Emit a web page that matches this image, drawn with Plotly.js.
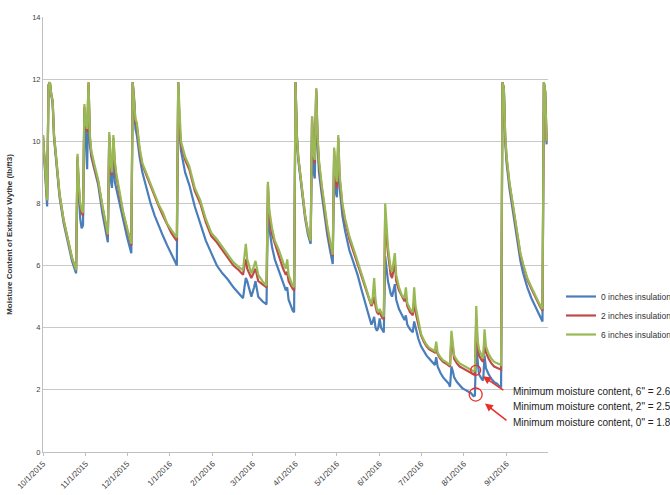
<!DOCTYPE html>
<html>
<head>
<meta charset="utf-8">
<script src="https://cdn.plot.ly/plotly-3.0.1.min.js"></script>
<style>html,body{margin:0;padding:0;background:#fff;overflow:hidden}#chart{width:670px;height:495px}</style>
</head>
<body>
<div id="chart"></div>
<script>
// Day offsets from 10/1/2015
const dayIndex = [0,1,2,3,4,5,6,7,8,10,12,15,18,21,24,25,26,27,28,29,30,31,32,33,34,35,37,40,43,46,47,48,49,50,51,52,53,55,58,61,64,65,66,67,68,70,72,75,78,81,84,87,90,93,96,97,98,99,100,103,106,110,114,118,122,126,130,134,138,142,145,146,147,148,150,151,153,154,156,159,162,163,164,166,168,171,174,176,177,178,181,182,183,184,185,186,188,190,192,194,195,196,197,198,199,200,202,204,206,208,210,211,212,213,214,215,217,219,222,225,228,231,234,237,238,239,240,241,242,243,244,245,246,247,248,249,250,252,253,255,256,258,260,262,263,264,266,268,269,270,272,274,276,278,280,282,284,285,286,288,290,292,294,295,296,297,298,300,302,304,306,308,310,312,313,314,315,316,318,319,320,321,323,325,327,329,331,332,333,334,335,336,338,340,342,344,346,348,351,354,357,360,362,363,364,365];

const moisture6in = [10.2,9.4,8.6,8.1,11.8,11.9,11.5,11.3,10.2,9.2,8.3,7.45,6.8,6.25,5.85,9.6,8.6,8.0,7.8,7.7,11.2,10.6,10.4,11.9,10.2,9.7,9.3,8.75,7.95,7.25,7.0,10.3,9.3,9.0,10.2,9.4,9.0,8.5,7.75,7.2,6.7,11.9,11.4,10.7,10.6,9.8,9.3,8.95,8.6,8.3,7.95,7.7,7.35,7.15,6.95,6.9,11.9,10.6,10.0,9.5,9.2,8.5,8.1,7.5,7.05,6.85,6.6,6.35,6.1,5.95,5.85,6.3,6.7,6.2,5.9,5.75,6.0,6.15,5.7,5.5,5.35,8.7,7.8,7.2,6.8,6.5,6.1,5.9,6.2,5.7,5.35,5.3,11.9,10.2,9.5,9.1,8.3,7.6,7.1,6.8,10.8,9.6,9.4,11.7,10.2,9.4,8.6,7.9,7.3,6.8,6.35,9.8,9.0,8.7,10.2,8.9,8.0,7.5,6.95,6.55,6.15,5.75,5.3,4.85,4.75,5.0,5.6,4.9,4.6,4.5,4.6,4.5,4.4,4.35,8.0,7.2,6.6,5.9,5.8,6.4,5.7,5.3,5.05,4.95,5.3,4.8,4.6,4.5,5.3,4.7,4.2,3.8,3.6,3.45,3.35,3.3,3.25,3.55,3.2,3.05,2.95,2.9,2.85,2.8,3.9,3.4,3.1,2.95,2.85,2.8,2.75,2.7,2.65,2.6,2.62,4.7,3.6,3.3,3.1,3.0,3.95,3.4,3.15,3.0,2.9,2.85,2.8,2.8,11.9,11.7,10.2,9.5,8.7,8.1,7.45,6.9,6.4,6.05,5.6,5.3,5.0,4.75,4.6,11.9,11.6,10.0];

const moisture2in = [10.2,9.4,8.6,8.1,11.8,11.9,11.5,11.3,10.2,9.2,8.3,7.45,6.8,6.25,5.85,9.5,8.5,7.9,7.7,7.6,11.1,10.5,10.3,11.9,10.1,9.6,9.2,8.7,7.9,7.2,6.95,10.2,9.2,8.9,10.1,9.3,8.9,8.4,7.7,7.15,6.65,11.9,11.4,10.6,10.5,9.7,9.25,8.9,8.55,8.25,7.9,7.6,7.3,7.05,6.85,6.8,11.9,10.5,9.9,9.4,9.1,8.4,8.0,7.4,6.95,6.75,6.5,6.25,6.0,5.85,5.7,6.0,6.2,5.9,5.7,5.6,5.8,5.9,5.5,5.4,5.3,8.6,7.6,7.0,6.7,6.3,5.9,5.7,5.8,5.5,5.25,5.2,11.9,10.2,9.5,9.1,8.3,7.6,7.1,6.8,10.8,9.5,9.3,11.7,10.1,9.3,8.5,7.8,7.2,6.7,6.3,9.7,8.8,8.5,10.1,8.8,7.9,7.4,6.85,6.45,6.05,5.65,5.2,4.8,4.7,4.8,5.0,4.7,4.5,4.45,4.5,4.4,4.3,4.3,7.7,6.9,6.4,5.7,5.6,6.1,5.5,5.2,5.0,4.85,5.0,4.7,4.5,4.4,4.9,4.5,4.1,3.75,3.55,3.4,3.3,3.25,3.2,3.3,3.15,3.0,2.9,2.85,2.8,2.75,3.7,3.3,3.0,2.85,2.75,2.7,2.65,2.6,2.55,2.5,2.52,4.3,3.4,3.1,2.95,2.9,3.6,3.2,3.0,2.85,2.75,2.7,2.65,2.65,11.9,11.7,10.1,9.45,8.65,8.05,7.4,6.85,6.35,6.0,5.55,5.25,4.95,4.7,4.55,11.9,11.6,10.0];

const moisture0in = [10.1,9.3,8.4,7.9,11.8,11.9,11.5,11.2,10.1,9.1,8.2,7.35,6.7,6.15,5.75,9.4,8.2,7.5,7.2,7.3,11.0,9.9,9.1,11.8,9.9,9.5,9.1,8.6,7.7,6.95,6.75,10.1,8.8,8.5,9.8,8.7,8.5,8.1,7.45,6.9,6.4,11.9,11.3,10.4,10.2,9.5,9.0,8.5,8.0,7.6,7.25,6.95,6.65,6.4,6.1,6.0,11.9,10.3,9.7,9.0,8.6,7.9,7.35,6.8,6.4,6.0,5.75,5.55,5.3,5.1,4.95,5.3,5.6,5.5,5.2,5.0,5.3,5.5,5.0,4.85,4.75,7.9,7.2,6.6,6.2,5.8,5.4,5.2,5.3,4.9,4.55,4.5,11.9,10.1,9.4,9.0,8.2,7.5,7.0,6.7,10.6,9.0,8.8,11.6,9.9,9.0,8.3,7.6,7.0,6.5,6.05,9.5,8.4,8.2,9.8,8.5,7.6,7.1,6.5,6.1,5.7,5.2,4.75,4.3,4.1,4.2,4.35,4.0,3.9,4.0,4.3,4.0,3.9,3.85,6.3,5.9,5.5,5.1,5.0,5.4,4.9,4.6,4.4,4.25,4.4,4.1,3.95,3.85,4.2,4.0,3.65,3.4,3.25,3.1,3.0,2.9,2.8,3.05,2.75,2.55,2.4,2.3,2.2,2.1,2.75,2.6,2.4,2.25,2.15,2.05,2.0,1.95,1.9,1.8,1.82,3.4,2.8,2.5,2.35,2.3,3.1,2.7,2.5,2.35,2.25,2.2,2.1,2.1,11.9,11.7,10.0,9.3,8.5,7.9,7.2,6.65,6.15,5.75,5.3,4.95,4.65,4.35,4.2,11.9,11.5,9.9];

const seriesNames = ['0 inches insulation','2 inches insulation','6 inches insulation'];
const seriesColors = ['#4a7ebb','#be4b48','#98b954'];

const tickDates = ['2015-10-01','2015-11-01','2015-12-01','2016-01-01','2016-02-01','2016-03-01','2016-04-01','2016-05-01','2016-06-01','2016-07-01','2016-08-01','2016-09-01'];
const tickLabels = ['10/1/2015','11/1/2015','12/1/2015','1/1/2016','2/1/2016','3/1/2016','4/1/2016','5/1/2016','6/1/2016','7/1/2016','8/1/2016','9/1/2016'];

const noteTexts = ['Minimum moisture content, 6" = 2.6','Minimum moisture content, 2" = 2.5','Minimum moisture content, 0" = 1.8'];

function toDate(d){
  return new Date(Date.UTC(2015,9,1) + d*86400000).toISOString().slice(0,10) ;
}
function toDateTime(d){
  return new Date(Date.UTC(2015,9,1) + d*86400000).toISOString().slice(0,19).replace('T',' ');
}
const dates = dayIndex.map(toDate);
const allSeries = [moisture0in, moisture2in, moisture6in];

const traces = allSeries.map((ys,i)=>({
  type:'scatter', mode:'lines', x:dates, y:ys, name:seriesNames[i],
  line:{color:seriesColors[i], width:2.2}
}));

const fontFam = 'Liberation Sans, Arial, sans-serif';
const annotations = noteTexts.map((t,i)=>({
  xref:'paper', yref:'paper', x:(511-43)/505, y:(452-(391+i*15.5))/435,
  xanchor:'left', yanchor:'middle', text:t, showarrow:false,
  font:{family:fontFam, size:10, color:'#222'}
}));
// arrows pointing to circled minima
annotations.push({xref:'x', yref:'y', x:toDateTime(318.8), y:2.44, ax:22, ay:15, text:'', showarrow:true,
  arrowhead:2, arrowsize:1, arrowwidth:1.6, arrowcolor:'#e8302a'});
annotations.push({xref:'x', yref:'y', x:toDateTime(320.3), y:1.56, ax:23, ay:18, text:'', showarrow:true,
  arrowhead:2, arrowsize:1, arrowwidth:1.6, arrowcolor:'#e8302a'});

const shapes = [
  {type:'circle', xref:'x', yref:'y', x0:toDateTime(310), x1:toDateTime(317.2), y0:2.47, y1:2.79, line:{color:'#e8302a', width:1.3}},
  {type:'circle', xref:'x', yref:'y', x0:toDateTime(308.9), x1:toDateTime(318.3), y0:1.64, y1:2.06, line:{color:'#e8302a', width:1.3}}
];

const layout = {
  width:670, height:495,
  margin:{l:43, r:122, t:17, b:43, autoexpand:false},
  paper_bgcolor:'#fff', plot_bgcolor:'#fff',
  font:{family:fontFam, size:7, color:'#404040'},
  showlegend:true,
  legend:{xref:'container', yref:'container', x:561/670, y:1-282/495, xanchor:'left', yanchor:'top',
    font:{family:fontFam, size:8.5, color:'#333'}, bgcolor:'rgba(0,0,0,0)', itemwidth:30},
  xaxis:{type:'date', range:['2015-10-01','2016-10-01'], tickvals:tickDates, ticktext:tickLabels,
    tickangle:-45, ticks:'outside', ticklen:3, tickcolor:'#bfbfbf', showgrid:false,
    showline:true, linecolor:'#bfbfbf', linewidth:1, zeroline:false, automargin:false,
    tickfont:{family:fontFam, size:8, color:'#404040'}},
  yaxis:{range:[0,14], dtick:2, tick0:0, showgrid:true, gridcolor:'#c8c8c8', gridwidth:1,
    showline:true, linecolor:'#bfbfbf', zeroline:false, ticks:'', automargin:false,
    tickfont:{family:fontFam, size:7.5, color:'#404040'},
    title:{text:'<b>Moisture Content of Exterior Wythe (lb/ft3)</b>', font:{family:fontFam, size:8, color:'#333'}, standoff:18}},
  annotations:annotations, shapes:shapes
};

Plotly.newPlot('chart', traces, layout, {displayModeBar:false, staticPlot:true});
</script>
</body>
</html>
